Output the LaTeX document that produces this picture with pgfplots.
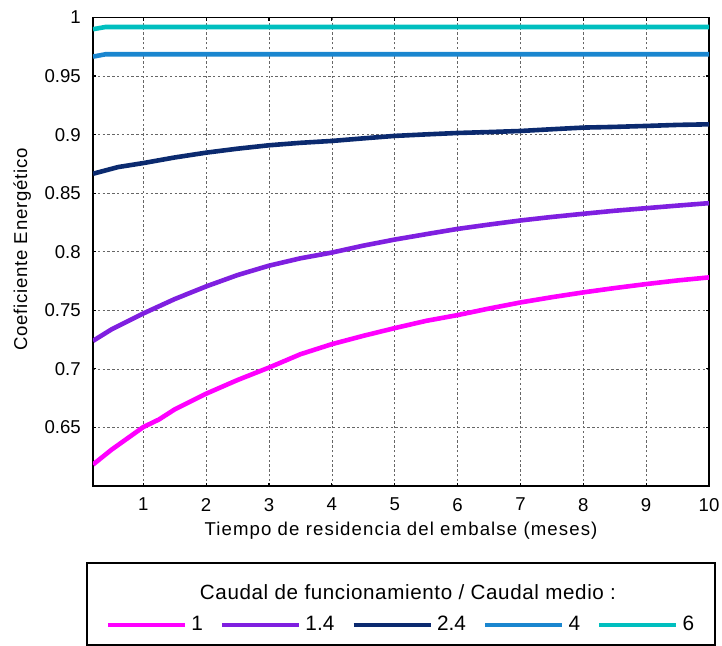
\documentclass[border=0pt]{standalone}
\usepackage{pgfplots}
\pgfplotsset{compat=1.18}
\usepackage{fontspec}
\setmainfont{Liberation Sans}
\newfontfamily\xlab[LetterSpace=6]{Liberation Sans}
\newfontfamily\ylab[LetterSpace=4]{Liberation Sans}
\newfontfamily\ltitle[LetterSpace=3]{Liberation Sans}
\definecolor{cA}{HTML}{FF00FF}
\definecolor{cB}{HTML}{7F1FE0}
\definecolor{cC}{HTML}{0B2A6F}
\definecolor{cD}{HTML}{1A86CF}
\definecolor{cE}{HTML}{00BFBF}
\begin{document}
\begin{tikzpicture}
\useasboundingbox (-46.5pt,-80pt) rectangle (314.5pt,243pt);
\begin{axis}[
  scale only axis,
  width=308pt, height=234.25pt,
  xmin=0.2, xmax=10, ymin=0.6, ymax=1,
  xtick={1,2,3,4,5,6,7,8,9,10},
  ytick={0.65,0.7,0.75,0.8,0.85,0.9,0.95,1},
  yticklabels={0.65,0.7,0.75,0.8,0.85,0.9,0.95,1},
  /pgf/number format/assume math mode=true,
  tick label style={font=\fontsize{9.3}{11}\selectfont, black},
  x tick label style={yshift=-2.5pt},
  y tick label style={xshift=-2.6pt},
  tick align=inside,
  major tick length=1.6pt,
  tick style={black, line width=0.6pt},
  axis line style={black, line width=0.6pt},
  grid=major,
  major grid style={gray!80!black, line width=0.3pt, dash pattern=on 1.2pt off 1.2pt},
  xlabel={\xlab Tiempo de residencia del embalse (meses)},
  ylabel={\ylab Coeficiente Energético},
  xlabel style={at={(axis description cs:0.5,-0.096)}, anchor=center, font=\fontsize{9.3}{11}\selectfont},
  ylabel style={at={(axis description cs:-0.115,0.505)}, anchor=center, font=\fontsize{9.3}{11}\selectfont},
  legend columns=5,
  legend style={at={(axis description cs:0.5016,-0.2967)}, anchor=center, draw=none, fill=none,
    font=\fontsize{10.4}{11}\selectfont,
    /tikz/every even column/.append style={column sep=6.5pt},
    inner sep=0pt, row sep=0pt},
  legend cell align=left,
  legend image code/.code={\draw[#1, line width=2.3pt] (0pt,0pt) -- (38.5pt,0pt);},
]
\addplot[cA, line width=2.3pt] coordinates {
(0.2,0.6183) (0.5,0.6312) (1,0.6503) (1.25,0.6568) (1.5,0.6654) (2,0.6788) (2.5,0.6905)
(3,0.7011) (3.5,0.7125) (4,0.7211) (4.5,0.7282) (5,0.7348) (5.5,0.7410) (6,0.7459)
(6.5,0.7515) (7,0.7567) (7.5,0.7612) (8,0.7653) (8.5,0.7690) (9,0.7724) (9.5,0.7755) (10,0.7781)};
\addlegendentry{1}
\addplot[cB, line width=2.3pt] coordinates {
(0.2,0.7239) (0.5,0.7339) (1,0.7473) (1.5,0.7596) (2,0.7704) (2.5,0.7801) (3,0.7881)
(3.5,0.7944) (4,0.7993) (4.5,0.8052) (5,0.8104) (5.5,0.8150) (6,0.8195) (6.5,0.8232)
(7,0.8267) (7.5,0.8297) (8,0.8324) (8.5,0.8350) (9,0.8372) (9.5,0.8394) (10,0.8415)};
\addlegendentry{1.4}
\addplot[cC, line width=2.3pt] coordinates {
(0.2,0.8666) (0.6,0.8723) (1,0.8757) (1.5,0.8805) (2,0.8846) (2.5,0.8880) (3,0.8909)
(3.5,0.8930) (4,0.8946) (4.5,0.8968) (5,0.8989) (5.5,0.9002) (6,0.9014) (6.5,0.9022)
(7,0.9031) (7.5,0.9046) (8,0.9060) (8.5,0.9066) (9,0.9074) (9.5,0.9083) (10,0.9088)};
\addlegendentry{2.4}
\addplot[cD, line width=2.3pt] coordinates {
(0.2,0.9666) (0.4,0.9686) (10,0.9686)};
\addlegendentry{4}
\addplot[cE, line width=2.3pt] coordinates {
(0.2,0.9900) (0.4,0.9919) (10,0.9919)};
\addlegendentry{6}
\end{axis}
\node[font=\fontsize{10.3}{11}\selectfont, anchor=center] at (157.5pt,-53pt) {\ltitle Caudal de funcionamiento / Caudal medio :};
\draw[black, line width=0.7pt] (-3pt,-38.5pt) rectangle (311pt,-79.6pt);
\end{tikzpicture}
\end{document}
